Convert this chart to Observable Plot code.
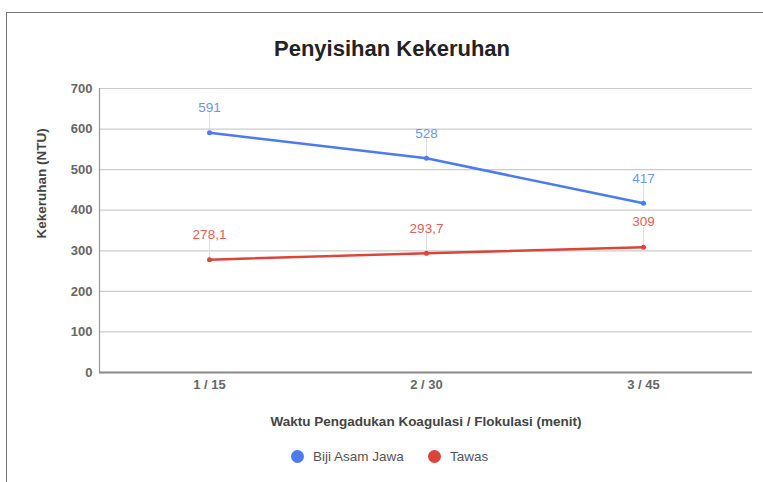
<!DOCTYPE html>
<html>
<head>
<meta charset="utf-8">
<script src="https://cdn.jsdelivr.net/npm/d3@7"></script>
<script src="https://cdn.jsdelivr.net/npm/@observablehq/plot@0.6"></script>
<style>
  body { margin: 0; background: #fff; font-family: "Liberation Sans", Arial, sans-serif; }
  #wrap { position: relative; width: 763px; height: 482px; overflow: hidden; background: #fff; }
  #border { position: absolute; left: 6px; top: 12px; width: 800px; height: 520px; border: 1.5px solid #777; box-sizing: border-box; }
  #title { position: absolute; left: 292px; width: 200px; top: 38px; line-height: 22px; white-space: nowrap; display: flex; justify-content: center; font-size: 22px; font-weight: bold; color: #222; }
  #chart { position: absolute; left: 0; top: 70px; }
  #legend { position: absolute; top: 447px; left: 0; width: 763px; font-size: 13.5px; color: #555; }
  .li { position: absolute; top: 0; display: flex; align-items: center; height: 18px; }
  .dot { width: 13px; height: 13px; border-radius: 50%; margin-right: 9px; }
</style>
</head>
<body>
<div id="wrap">
  <div id="border"></div>
  <div id="title"><span>Penyisihan Kekeruhan</span></div>
  <div id="chart"></div>
  <div id="legend"></div>
</div>
<script>
const categories = ["1 / 15", "2 / 30", "3 / 45"];
const seriesNames = ["Biji Asam Jawa", "Tawas"];
const bijiAsamJawa = [591, 528, 417];
const tawas = [278.1, 293.7, 309];
const bijiLabels = ["591", "528", "417"];
const tawasLabels = ["278,1", "293,7", "309"];
const yTicks = [0, 100, 200, 300, 400, 500, 600, 700];
const colors = ["#4a7bf0", "#db4437"];
const labelColors = ["#6f93ee", "#e0605a"];

const data = [];
categories.forEach((c, i) => {
  data.push({cat: c, value: bijiAsamJawa[i], label: bijiLabels[i], series: seriesNames[0]});
  data.push({cat: c, value: tawas[i], label: tawasLabels[i], series: seriesNames[1]});
});

const chart = Plot.plot({
  width: 763,
  height: 370,
  marginLeft: 99,
  marginRight: 11,
  marginTop: 18,
  marginBottom: 68,
  style: {fontFamily: "'Liberation Sans', Arial, sans-serif", fontSize: "13px", color: "#555", background: "transparent"},
  x: {type: "point", domain: categories, padding: 0.5, label: null},
  y: {domain: [0, 700], ticks: yTicks, label: null},
  color: {domain: seriesNames, range: colors},
  marks: [
    Plot.gridY(yTicks, {stroke: "#ccc", strokeOpacity: 1, strokeWidth: 1.2}),
    Plot.axisY(yTicks, {tickSize: 0, tickPadding: 7, label: null, fill: "#666", fontSize: 13, fontWeight: "bold"}),
    Plot.axisX({tickSize: 0, tickPadding: 7, label: null, fill: "#666", fontSize: 13, fontWeight: "bold"}),
    Plot.ruleY([0], {stroke: "#888", strokeWidth: 1.8}),
    Plot.frame({anchor: "left", stroke: "#999", strokeWidth: 1.2}),
    Plot.ruleX(data, {x: "cat", y1: "value", y2: d => d.value + 48, stroke: "#ddd", strokeWidth: 1}),
    Plot.line(data, {x: "cat", y: "value", z: "series", stroke: "series", strokeWidth: 2.5}),
    Plot.dot(data, {x: "cat", y: "value", fill: "series", r: 2.5}),
    Plot.text(data, {x: "cat", y: "value", text: "label", dy: -25, fill: d => labelColors[seriesNames.indexOf(d.series)], fontSize: 13.5}),
    Plot.text(["Waktu Pengadukan Koagulasi / Flokulasi (menit)"], {frameAnchor: "bottom", dy: 53, text: d => d, fontWeight: "bold", fill: "#444", fontSize: 13.5}),
    Plot.text(["Kekeruhan (NTU)"], {frameAnchor: "left", dx: -58, dy: 8, rotate: -90, text: d => d, fontWeight: "bold", fill: "#444", fontSize: 13.5})
  ]
});
document.getElementById("chart").appendChild(chart);

const legend = document.getElementById("legend");
const lx = [291, 428];
seriesNames.forEach((s, i) => {
  const el = document.createElement("div");
  el.className = "li";
  el.style.left = lx[i] + "px";
  el.innerHTML = `<div class="dot" style="background:${colors[i]}"></div><span>${s}</span>`;
  legend.appendChild(el);
});
</script>
</body>
</html>
